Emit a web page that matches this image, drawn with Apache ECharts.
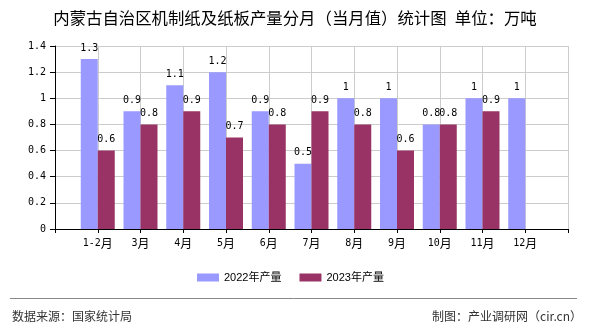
<!DOCTYPE html>
<html>
<head>
<meta charset="utf-8">
<script src="https://cdn.jsdelivr.net/npm/echarts@6/dist/echarts.min.js"></script>
<style>
  html, body { margin: 0; padding: 0; background: #fff; }
  #chart { width: 590px; height: 330px; }
</style>
</head>
<body>
<div id="chart"></div>
<script>
// 月份与两年产量（万吨）
const categories = ['1-2月', '3月', '4月', '5月', '6月', '7月', '8月', '9月', '10月', '11月', '12月'];
const output2022 = [1.3, 0.9, 1.1, 1.2, 0.9, 0.5, 1, 1, 0.8, 1, 1];
const output2023 = [0.6, 0.8, 0.9, 0.7, 0.8, 0.9, 0.8, 0.6, 0.8, 0.9, null];
const yTicks = [0, 0.2, 0.4, 0.6, 0.8, 1, 1.2, 1.4];

const seriesNames = ['2022年产量', '2023年产量'];
const titleText = '内蒙古自治区机制纸及纸板产量分月（当月值）统计图\u2002单位：万吨';
const sourceText = '数据来源：国家统计局';
const creditText = '制图：产业调研网（cir.cn）';

// 首尾各留一个空位，使柱子落在刻度线上
const axisCats = [''].concat(categories, ['']);
const pad = arr => ['-'].concat(arr.map(v => (v == null ? '-' : v)), ['-']);

const MONO = '"DejaVu Sans Mono", "Noto Sans CJK SC", monospace';
const CJK = '"Noto Sans CJK SC", "Liberation Sans", sans-serif';
const SANS = '"Liberation Sans", "Noto Sans CJK SC", sans-serif';

const chart = echarts.init(document.getElementById('chart'), null, { renderer: 'canvas' });

const barLabel = {
  show: true,
  position: 'top',
  distance: 6,
  color: '#000',
  fontFamily: MONO,
  fontSize: 10
};

chart.setOption({
  animation: false,
  backgroundColor: '#ffffff',
  grid: { left: 55, right: 22, top: 46, bottom: 101, containLabel: false },
  legend: {
    data: seriesNames,
    left: 197,
    top: 272,
    padding: 0,
    icon: 'rect',
    itemWidth: 22,
    itemHeight: 8,
    itemGap: 18,
    textStyle: { fontFamily: SANS, fontSize: 11, color: '#000' }
  },
  xAxis: {
    type: 'category',
    data: axisCats,
    boundaryGap: false,
    axisLine: { lineStyle: { color: '#000', width: 1 } },
    axisTick: { show: true, interval: 0, length: 4, lineStyle: { color: '#000' } },
    splitLine: { show: true, interval: 0, lineStyle: { color: '#cccccc', width: 1 } },
    axisLabel: {
      interval: 0,
      margin: 8,
      formatter: function (v) {
        if (!v) return '';
        return '{a|' + v.replace('月', '') + '}{b|月}';
      },
      rich: {
        a: { fontFamily: MONO, fontSize: 10, color: '#000' },
        b: { fontFamily: CJK, fontSize: 12, color: '#000' }
      }
    }
  },
  yAxis: {
    type: 'value',
    min: yTicks[0],
    max: yTicks[yTicks.length - 1],
    interval: yTicks[1] - yTicks[0],
    axisLine: { show: true, lineStyle: { color: '#000', width: 1 } },
    axisTick: { show: true, length: 5, lineStyle: { color: '#000' } },
    splitLine: { show: true, lineStyle: { color: '#cccccc', width: 1 } },
    axisLabel: { margin: 9, fontFamily: MONO, fontSize: 10, color: '#000' }
  },
  series: [
    {
      name: seriesNames[0],
      type: 'bar',
      data: pad(output2022),
      barWidth: 17,
      barGap: '0%',
      itemStyle: { color: '#9999ff' },
      label: barLabel
    },
    {
      name: seriesNames[1],
      type: 'bar',
      data: pad(output2023),
      barWidth: 17,
      barGap: '0%',
      itemStyle: { color: '#993366' },
      label: barLabel
    }
  ],
  graphic: [
    {
      type: 'text',
      style: {
        text: titleText,
        x: 295, y: 18,
        textAlign: 'center',
        textVerticalAlign: 'middle',
        font: '16.4px ' + CJK,
        fill: '#000'
      }
    },
    {
      type: 'line',
      shape: { x1: 10, y1: 298.5, x2: 577, y2: 298.5 },
      style: { stroke: '#888888', lineWidth: 1 }
    },
    {
      type: 'text',
      style: {
        text: sourceText,
        x: 12, y: 316,
        textAlign: 'left',
        textVerticalAlign: 'middle',
        font: '12px ' + CJK,
        fill: '#333'
      }
    },
    {
      type: 'text',
      style: {
        text: creditText,
        x: 582, y: 316,
        textAlign: 'right',
        textVerticalAlign: 'middle',
        font: '12px ' + CJK,
        fill: '#333'
      }
    }
  ]
});
</script>
</body>
</html>
